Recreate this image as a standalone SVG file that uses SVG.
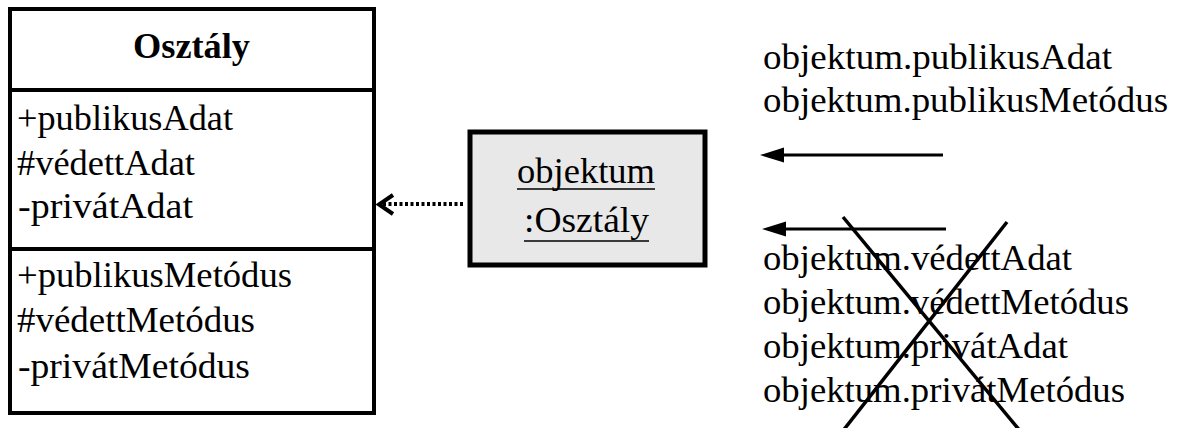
<svg xmlns="http://www.w3.org/2000/svg" width="1181" height="428" viewBox="0 0 1181 428">
<defs>
<style>
.t{font-family:"Liberation Serif","Times New Roman",serif;font-size:36px;fill:#000}
.b{font-weight:bold}
.box{fill:#fff;stroke:#000;stroke-width:4}
.obj{fill:#e8e8e8;stroke:#000;stroke-width:5}
.ln{stroke:#000;stroke-width:4;fill:none}
.ul{stroke:#000;stroke-width:1.5}
.arr{stroke:#000;stroke-width:3;fill:none}
.dot{stroke:#000;stroke-width:4;fill:none;stroke-dasharray:3 2.5}
.x{stroke:#000;stroke-width:3.5;fill:none}
</style>
</defs>
<rect width="1181" height="428" fill="#fff"/>

<g id="class-osztaly">
<rect class="box" x="10" y="9" width="364" height="404"/>
<line class="ln" x1="10" y1="90" x2="374" y2="90"/>
<line class="ln" x1="10" y1="249" x2="374" y2="249"/>
<text class="t b" x="133" y="58" textLength="117" lengthAdjust="spacingAndGlyphs">Osztály</text>
<text class="t" x="17" y="130" textLength="216" lengthAdjust="spacingAndGlyphs">+publikusAdat</text>
<text class="t" x="17" y="175" textLength="178" lengthAdjust="spacingAndGlyphs">#védettAdat</text>
<text class="t" x="18" y="218" textLength="175" lengthAdjust="spacingAndGlyphs">-privátAdat</text>
<text class="t" x="17" y="287" textLength="275" lengthAdjust="spacingAndGlyphs">+publikusMetódus</text>
<text class="t" x="17" y="332" textLength="238" lengthAdjust="spacingAndGlyphs">#védettMetódus</text>
<text class="t" x="18" y="378" textLength="232" lengthAdjust="spacingAndGlyphs">-privátMetódus</text>
</g>

<g id="object-objektum">
<rect class="obj" x="470" y="132" width="235" height="133"/>
<text class="t" x="517" y="183" textLength="138" lengthAdjust="spacingAndGlyphs">objektum</text>
<line class="ul" x1="517" y1="189" x2="655" y2="189"/>
<text class="t" x="524" y="232" textLength="125" lengthAdjust="spacingAndGlyphs">:Osztály</text>
<line class="ul" x1="524" y1="241" x2="649" y2="241"/>
</g>

<g id="public-access">
<text class="t" x="763" y="69" textLength="349" lengthAdjust="spacingAndGlyphs">objektum.publikusAdat</text>
<text class="t" x="763" y="112" textLength="405" lengthAdjust="spacingAndGlyphs">objektum.publikusMetódus</text>
</g>

<g id="forbidden-access">
<text class="t" x="763" y="270" textLength="309" lengthAdjust="spacingAndGlyphs">objektum.védettAdat</text>
<text class="t" x="763" y="314" textLength="366" lengthAdjust="spacingAndGlyphs">objektum.védettMetódus</text>
<text class="t" x="763" y="358" textLength="305" lengthAdjust="spacingAndGlyphs">objektum.privátAdat</text>
<text class="t" x="763" y="402" textLength="362" lengthAdjust="spacingAndGlyphs">objektum.privátMetódus</text>
</g>

<g id="connectors">
<line class="dot" x1="463" y1="204" x2="383" y2="204"/>
<polyline class="ln" points="393,195 379,204.5 393,214"/>
<line class="arr" x1="943" y1="155" x2="784" y2="155"/>
<path d="M760,155 L784,147.5 L784,162.5 Z" fill="#000"/>
<line class="arr" x1="946" y1="229" x2="786" y2="229"/>
<path d="M762,229 L786,221.5 L786,236.5 Z" fill="#000"/>
</g>

<g id="cross-mark">
<line class="x" x1="843" y1="217" x2="1021" y2="432"/>
<line class="x" x1="1007" y1="222" x2="842" y2="432"/>
</g>
</svg>
